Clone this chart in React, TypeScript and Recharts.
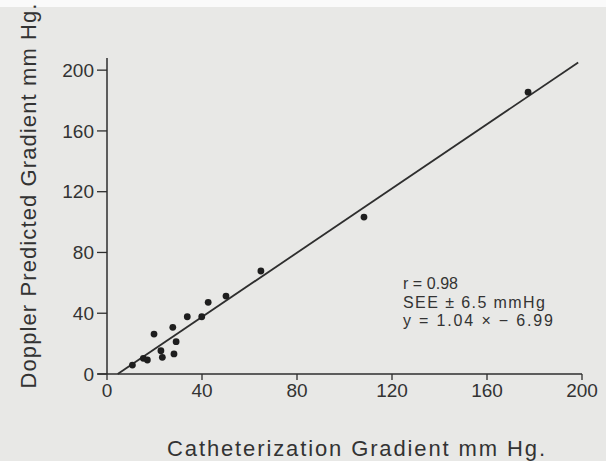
import React from 'react'
import {
  ScatterChart,
  Scatter,
  XAxis,
  YAxis,
  ReferenceLine,
} from 'recharts'

// catheterization gradient (x) vs doppler predicted gradient (y), mm Hg
const cathGradient = [10.7, 15.3, 17.0, 19.8, 22.7, 23.3, 27.7, 29.1, 28.2, 33.8, 39.9, 42.6, 50.1, 64.8, 108.2, 177.3]
const dopplerGradient = [5.9, 10.3, 9.2, 26.3, 15.3, 11.0, 30.7, 21.3, 13.2, 37.7, 37.7, 47.2, 51.3, 67.8, 103.3, 185.5]

// regression line y = 1.04x - 6.99 as drawn on the figure
const fitX = [4.5, 198.4]
const fitY = [0, 205]

const xTicks = [0, 40, 80, 120, 160, 200]
const yTicks = [0, 40, 80, 120, 160, 200]

const statsLines = ['r = 0.98', 'SEE \u00b1 6.5 mmHg', 'y = 1.04 \u00d7  \u2212 6.99']

const points = cathGradient.map((x, i) => ({ x, y: dopplerGradient[i] }))
const fitLine = fitX.map((x, i) => ({ x, y: fitY[i] }))

const ink = '#2e2e2e'
const font = '"Liberation Sans", Arial, Helvetica, sans-serif'

const Dot = (props: any) => <circle cx={props.cx} cy={props.cy} r={3.4} fill="#1e1e1e" />

const App: React.FC = () => {
  return (
    <div
      style={{
        position: 'absolute',
        left: 0,
        top: 0,
        width: 606,
        height: 461,
        background: '#e8e8e6',
        fontFamily: font,
      }}
    >
      <div style={{ position: 'absolute', left: 0, top: 0, width: 606, height: 7, background: '#fafafa' }} />
      <ScatterChart width={606} height={461} margin={{ top: 58, right: 24, bottom: 47, left: 0 }}>
        <XAxis
          type="number"
          dataKey="x"
          domain={[0, 200]}
          ticks={xTicks}
          height={40}
          tickSize={6}
          tickMargin={4}
          axisLine={{ stroke: ink, strokeWidth: 1.5 }}
          tickLine={{ stroke: ink, strokeWidth: 1.3 }}
          tick={{ fill: '#333', fontSize: 19, fontFamily: font }}
        />
        <YAxis
          type="number"
          dataKey="y"
          domain={[0, 208]}
          ticks={yTicks}
          width={107}
          tickSize={10}
          tickMargin={3}
          axisLine={{ stroke: ink, strokeWidth: 1.5 }}
          tickLine={{ stroke: ink, strokeWidth: 1.3 }}
          tick={{ fill: '#333', fontSize: 19, fontFamily: font }}
        />
        <ReferenceLine
          segment={[{ x: -4, y: 0 }, { x: 0, y: 0 }]}
          ifOverflow="visible"
          stroke={ink}
          strokeWidth={1.5}
        />
        <Scatter
          data={fitLine}
          line={{ stroke: ink, strokeWidth: 1.8 }}
          shape={() => <g />}
          isAnimationActive={false}
        />
        <Scatter data={points} shape={Dot} isAnimationActive={false} />
      </ScatterChart>
      <svg
        width={606}
        height={461}
        style={{ position: 'absolute', left: 0, top: 0, pointerEvents: 'none' }}
      >
        <text
          transform="translate(36,196) rotate(-90)"
          textAnchor="middle"
          fontSize={22}
          fill="#333"
          fontFamily={font}
          textLength={385}
          lengthAdjust="spacing"
        >
          Doppler Predicted Gradient  mm Hg.
        </text>
        <text
          x={356}
          y={456}
          textAnchor="middle"
          fontSize={22}
          fill="#333"
          fontFamily={font}
          textLength={378}
          lengthAdjust="spacing"
        >
          Catheterization  Gradient  mm  Hg.
        </text>
        {statsLines.map((s, i) => (
          <text
            key={i}
            x={403}
            y={289 + i * 18.5}
            fontSize={16}
            fill="#333"
            fontFamily={font}
            textLength={[55, 142, 150][i]}
            lengthAdjust="spacing"
          >
            {s}
          </text>
        ))}
      </svg>
    </div>
  )
}

export default App
